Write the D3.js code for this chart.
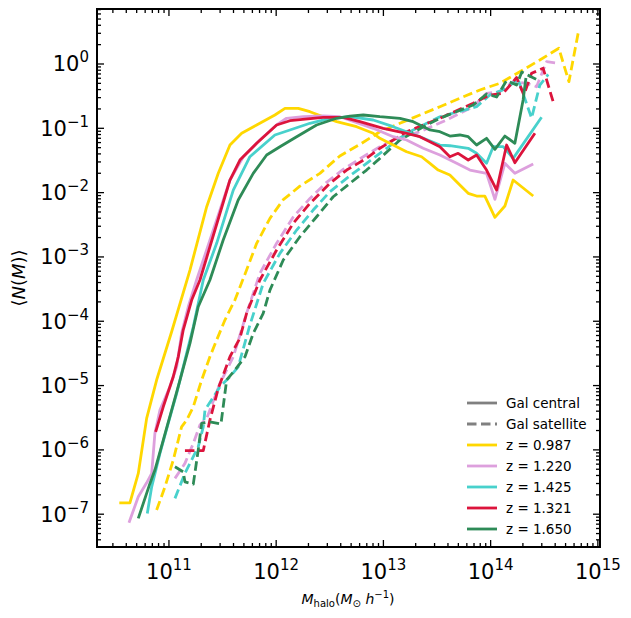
<!DOCTYPE html>
<html><head><meta charset="utf-8">
<script src="https://cdn.jsdelivr.net/npm/d3@7"></script>
<style>
body{margin:0;background:#fff;}
text{font-family:"DejaVu Sans",sans-serif;fill:#000;}
</style></head>
<body><svg id="c" width="631" height="618"></svg>
<script>
// values are [log10 Mhalo, log10 <N(M)>]
const zLabels = ["z = 0.987","z = 1.220","z = 1.425","z = 1.321","z = 1.650"];
const zColors = ["#FFD700","#DDA0DD","#48D1CC","#DC143C","#2E8B57"];

const cen0987 = [[10.537,-6.823],[10.636,-6.823],[10.714,-6.366],[10.792,-5.510],[10.885,-4.914],[11.025,-4.163],[11.196,-3.204],[11.352,-2.219],[11.460,-1.700],[11.569,-1.260],[11.678,-1.078],[11.818,-0.949],[11.988,-0.793],[12.082,-0.689],[12.206,-0.689],[12.315,-0.742],[12.439,-0.820],[12.564,-0.897],[12.750,-0.975],[12.905,-1.078],[12.967,-1.156],[13.091,-1.260],[13.216,-1.364],[13.356,-1.442],[13.434,-1.544],[13.511,-1.649],[13.620,-1.726],[13.713,-1.882],[13.791,-2.011],[13.869,-2.053],[13.946,-2.053],[14.040,-2.384],[14.133,-2.208],[14.210,-1.804],[14.397,-2.053]];
const cen1220 = [[10.627,-7.134],[10.714,-6.729],[10.792,-6.512],[10.839,-6.365],[10.869,-5.743],[10.916,-5.381],[11.009,-5.019],[11.072,-4.708],[11.118,-4.188],[11.180,-3.774],[11.258,-3.359],[11.569,-1.804],[11.693,-1.442],[11.848,-1.182],[12.004,-0.949],[12.097,-0.844],[12.252,-0.820],[12.439,-0.809],[12.594,-0.820],[12.905,-1.000],[13.091,-1.131],[13.216,-1.182],[13.371,-1.311],[13.527,-1.415],[13.683,-1.544],[13.807,-1.649],[13.962,-1.700],[14.040,-2.104],[14.133,-1.544],[14.226,-1.700],[14.397,-1.555]];
const cen1425 = [[10.798,-6.988],[10.839,-6.574],[10.916,-6.054],[10.993,-5.588],[11.072,-5.121],[11.149,-4.603],[11.227,-4.085],[11.320,-3.359],[11.445,-2.788],[11.600,-1.960],[11.755,-1.442],[11.988,-1.104],[12.128,-1.026],[12.315,-0.922],[12.501,-0.844],[12.688,-0.820],[12.905,-0.871],[13.091,-0.975],[13.340,-1.131],[13.527,-1.260],[13.620,-1.271],[13.791,-1.311],[13.869,-1.389],[13.962,-1.544],[14.024,-1.286],[14.117,-1.286],[14.210,-1.467],[14.475,-0.829]];
const cen1321 = [[10.876,-5.719],[10.947,-5.330],[11.040,-4.863],[11.087,-4.552],[11.133,-4.137],[11.212,-3.670],[11.289,-3.359],[11.569,-1.804],[11.662,-1.493],[11.818,-1.233],[12.004,-0.949],[12.128,-0.882],[12.439,-0.829],[12.625,-0.829],[12.781,-0.897],[12.998,-1.000],[13.216,-1.078],[13.340,-1.131],[13.527,-1.286],[13.620,-1.442],[13.697,-1.389],[13.791,-1.493],[13.869,-1.415],[13.962,-1.649],[14.056,-1.960],[14.149,-1.260],[14.226,-1.535],[14.413,-1.078]];
const cen1650 = [[10.714,-7.065],[10.823,-6.521],[10.869,-6.314],[10.947,-5.848],[11.025,-5.381],[11.103,-4.914],[11.196,-4.344],[11.273,-3.774],[11.382,-3.359],[11.506,-2.737],[11.646,-2.115],[11.786,-1.700],[11.911,-1.415],[12.035,-1.286],[12.191,-1.131],[12.377,-0.949],[12.564,-0.844],[12.688,-0.809],[12.812,-0.793],[12.967,-0.820],[13.154,-0.844],[13.278,-0.897],[13.434,-1.026],[13.527,-1.053],[13.620,-1.120],[13.713,-1.104],[13.791,-1.131],[13.869,-1.260],[13.962,-1.156],[14.040,-1.327],[14.133,-1.120],[14.226,-1.233],[14.303,-0.560],[14.329,-0.218]];

const sat0987 = [[10.885,-6.936],[10.963,-6.574],[11.040,-6.159],[11.118,-5.641],[11.165,-5.537],[11.227,-5.330],[11.305,-4.914],[11.382,-4.552],[11.445,-4.292],[11.522,-3.981],[11.615,-3.670],[11.724,-3.204],[11.818,-2.788],[11.942,-2.400],[12.066,-2.110],[12.221,-1.900],[12.408,-1.700],[12.594,-1.430],[12.781,-1.250],[12.967,-1.053],[13.154,-0.922],[13.340,-0.793],[13.527,-0.664],[13.713,-0.533],[13.900,-0.404],[14.086,-0.300],[14.273,-0.120],[14.459,0.062],[14.636,0.244],[14.730,-0.275],[14.816,0.477]];
const sat1220 = [[11.056,-6.443],[11.149,-6.210],[11.227,-5.899],[11.289,-5.614],[11.352,-5.510],[11.476,-4.966],[11.600,-4.552],[11.724,-3.877],[11.848,-3.255],[12.004,-2.788],[12.159,-2.380],[12.315,-2.090],[12.470,-1.840],[12.625,-1.640],[12.812,-1.442],[12.967,-1.286],[13.091,-1.182],[13.340,-1.053],[13.589,-0.871],[13.837,-0.664],[13.962,-0.456],[14.086,-0.431],[14.210,-0.275],[14.335,-0.300],[14.428,-0.353],[14.522,0.036],[14.630,0.011]];
const sat1425 = [[11.056,-6.754],[11.149,-6.365],[11.273,-5.952],[11.320,-5.641],[11.336,-5.381],[11.476,-5.019],[11.569,-4.863],[11.646,-4.708],[11.755,-4.059],[11.879,-3.411],[12.035,-2.944],[12.191,-2.582],[12.345,-2.271],[12.501,-1.986],[12.657,-1.778],[12.843,-1.544],[12.967,-1.389],[13.216,-1.078],[13.527,-0.820],[13.869,-0.664],[13.993,-0.482],[14.149,-0.378],[14.255,-0.233],[14.382,-0.840],[14.459,-0.327],[14.537,-0.163]];
const sat1321 = [[11.149,-6.011],[11.320,-6.011],[11.382,-5.537],[11.460,-5.044],[11.569,-4.552],[11.662,-4.261],[11.724,-3.877],[11.848,-3.359],[12.004,-2.893],[12.159,-2.477],[12.315,-2.166],[12.501,-1.855],[12.657,-1.649],[12.843,-1.467],[12.967,-1.311],[13.216,-1.053],[13.527,-0.844],[13.837,-0.611],[13.993,-0.482],[14.117,-0.456],[14.242,-0.210],[14.310,-0.482],[14.382,-0.145],[14.490,-0.067],[14.583,-0.586]];
const sat1650 = [[11.056,-6.263],[11.133,-6.341],[11.149,-6.496],[11.227,-6.532],[11.273,-6.003],[11.305,-5.588],[11.382,-5.563],[11.485,-5.599],[11.538,-4.914],[11.615,-4.759],[11.709,-4.552],[11.786,-4.188],[11.879,-3.877],[11.942,-3.515],[12.066,-3.048],[12.221,-2.686],[12.377,-2.375],[12.532,-2.064],[12.688,-1.855],[12.843,-1.649],[12.967,-1.467],[13.154,-1.182],[13.403,-0.949],[13.527,-0.844],[13.837,-0.638],[13.962,-0.467],[14.056,-0.513],[14.149,-0.257],[14.242,-0.327],[14.291,-0.124],[14.382,-0.202],[14.441,-0.249]];

const centrals = [cen0987, cen1220, cen1425, cen1321, cen1650];
const satellites = [sat0987, sat1220, sat1425, sat1321, sat1650];

const xDecades = [11,12,13,14,15];
const yDecades = [0,-1,-2,-3,-4,-5,-6,-7];

const svg = d3.select("#c");
const L=97, R=600, T=9, B=547;
const x = d3.scaleLog().domain([Math.pow(10,10.329), Math.pow(10,15.02)]).range([L,R]);
const y = d3.scaleLog().domain([Math.pow(10,-7.51), Math.pow(10,0.855)]).range([B,T]);

svg.append("defs").append("clipPath").attr("id","clip")
  .append("rect").attr("x",L).attr("y",T).attr("width",R-L).attr("height",B-T);

const line = d3.line().x(d=>x(Math.pow(10,d[0]))).y(d=>y(Math.pow(10,d[1])));
const g = svg.append("g").attr("clip-path","url(#clip)");
const LW = 2.8, DASH = "9.5,4.5";
satellites.forEach((s,i)=>{
  g.append("path").datum(s).attr("d",line).attr("fill","none")
   .attr("stroke",zColors[i]).attr("stroke-width",LW).attr("stroke-dasharray",DASH)
   .attr("stroke-linejoin","round");
});
centrals.forEach((s,i)=>{
  g.append("path").datum(s).attr("d",line).attr("fill","none")
   .attr("stroke",zColors[i]).attr("stroke-width",LW).attr("stroke-linejoin","round");
});

// ticks
const minorX=[], minorY=[];
for(let e=10;e<=15;e++) for(let m=2;m<=9;m++){const v=m*Math.pow(10,e); if(v>=x.domain()[0]&&v<=x.domain()[1]) minorX.push(v);}
for(let e=-8;e<=0;e++) for(let m=2;m<=9;m++){const v=m*Math.pow(10,e); if(v>=y.domain()[0]&&v<=y.domain()[1]) minorY.push(v);}
const tk = svg.append("g").attr("stroke","#000").attr("stroke-width",1.3);
const MJ=7, MN=4;
xDecades.forEach(e=>{const px=x(Math.pow(10,e));
  tk.append("line").attr("x1",px).attr("x2",px).attr("y1",B).attr("y2",B-MJ);
  tk.append("line").attr("x1",px).attr("x2",px).attr("y1",T).attr("y2",T+MJ);});
minorX.forEach(v=>{const px=x(v);
  tk.append("line").attr("x1",px).attr("x2",px).attr("y1",B).attr("y2",B-MN);
  tk.append("line").attr("x1",px).attr("x2",px).attr("y1",T).attr("y2",T+MN);});
yDecades.forEach(e=>{const py=y(Math.pow(10,e));
  tk.append("line").attr("y1",py).attr("y2",py).attr("x1",L).attr("x2",L+MJ);
  tk.append("line").attr("y1",py).attr("y2",py).attr("x1",R).attr("x2",R-MJ);});
minorY.forEach(v=>{const py=y(v);
  tk.append("line").attr("y1",py).attr("y2",py).attr("x1",L).attr("x2",L+MN);
  tk.append("line").attr("y1",py).attr("y2",py).attr("x1",R).attr("x2",R-MN);});

svg.append("rect").attr("x",L).attr("y",T).attr("width",R-L).attr("height",B-T)
  .attr("fill","none").attr("stroke","#000").attr("stroke-width",2);

const fmtExp = e => (e<0? "\u2212"+(-e) : ""+e);
xDecades.forEach(e=>{
  const t = svg.append("text").attr("x",x(Math.pow(10,e))).attr("y",579).attr("text-anchor","middle").style("font-size","21px");
  t.append("tspan").text("10");
  t.append("tspan").attr("dy",-9).style("font-size","15px").text(fmtExp(e));
});
yDecades.forEach(e=>{
  const t = svg.append("text").attr("x",89).attr("y",y(Math.pow(10,e))+7.5).attr("text-anchor","end").style("font-size","21px");
  t.append("tspan").text("10");
  t.append("tspan").attr("dy",-9).style("font-size","15px").text(fmtExp(e));
});

// axis labels
const xl = svg.append("text").attr("x",348).attr("y",604).attr("text-anchor","middle").style("font-size","14px");
xl.append("tspan").style("font-style","italic").text("M");
xl.append("tspan").attr("dy",3).style("font-size","10px").text("halo");
xl.append("tspan").attr("dy",-3).text("(");
xl.append("tspan").style("font-style","italic").text("M");
xl.append("tspan").attr("dy",3).style("font-size","10px").text("\u2299");
xl.append("tspan").attr("dy",-3).text(" ");
xl.append("tspan").style("font-style","italic").text("h");
xl.append("tspan").attr("dy",-6).style("font-size","10px").text("\u22121");
xl.append("tspan").attr("dy",6).text(")");

const yl = svg.append("text").attr("transform","translate(25,278) rotate(-90)").attr("text-anchor","middle").style("font-size","18px");
yl.append("tspan").text("\u27E8");
yl.append("tspan").style("font-style","italic").text("N");
yl.append("tspan").text("(");
yl.append("tspan").style("font-style","italic").text("M");
yl.append("tspan").text(")\u27E9");

// legend
const legItems = [{lab:"Gal central",c:"#808080",dash:null},{lab:"Gal satellite",c:"#808080",dash:DASH}]
  .concat(zLabels.map((l,i)=>({lab:l,c:zColors[i],dash:null})));
const lg = svg.append("g");
legItems.forEach((it,i)=>{
  const yy = 403 + i*21;
  lg.append("line").attr("x1",467).attr("x2",497).attr("y1",yy).attr("y2",yy)
    .attr("stroke",it.c).attr("stroke-width",LW).attr("stroke-dasharray",it.dash);
  lg.append("text").attr("x",506).attr("y",yy+5).style("font-size","13.5px").text(it.lab);
});
</script></body></html>
